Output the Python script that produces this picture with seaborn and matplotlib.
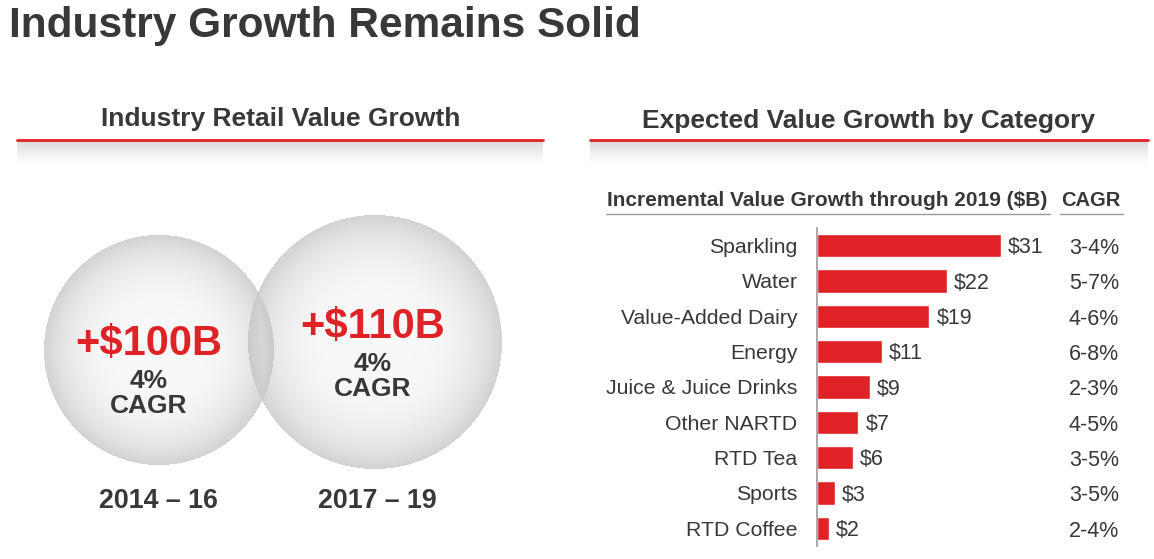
import numpy as np
import pandas as pd
import matplotlib
matplotlib.use('Agg')
import matplotlib.pyplot as plt
import matplotlib.transforms as mtransforms
import seaborn as sns

# data
categories = ['Sparkling', 'Water', 'Value-Added Dairy', 'Energy', 'Juice & Juice Drinks',
              'Other NARTD', 'RTD Tea', 'Sports', 'RTD Coffee']
growth_b = [31, 22, 19, 11, 9, 7, 6, 3, 2]
cagr = ['3-4%', '5-7%', '4-6%', '6-8%', '2-3%', '4-5%', '3-5%', '3-5%', '2-4%']
periods = ['2014 \u2013 16', '2017 \u2013 19']
period_value = ['+$100B', '+$110B']
period_cagr = ['4%', '4%']

RED = '#DF2226'
DARK = '#383838'

sns.set_theme(style='white')
plt.rcParams['font.family'] = ['Liberation Sans', 'DejaVu Sans']

W, H = 1154, 559
fig = plt.figure(figsize=(W / 100, H / 100), dpi=100)
bg = fig.add_axes([0, 0, 1, 1])
bg.set_xlim(0, W)
bg.set_ylim(H, 0)
bg.axis('off')

# background: header shadows + shaded circles
yy, xx = np.mgrid[0:H, 0:W] + 0.5
img = np.ones((H, W))
for x0, x1 in [(17, 543), (590, 1148)]:
    band = (xx >= x0) & (xx <= x1) & (yy >= 141) & (yy <= 168)
    t = np.clip((yy - 141) / 27, 0, 1)
    img = np.where(band, 1 - 0.15 * (1 - t) ** 1.6, img)

def sphere(cx, cy, r):
    d = np.hypot(xx - cx, yy - cy) / r
    s = 0.975 - 0.15 * np.clip(d, 0, 1) ** 3.6
    return np.where(d <= 1, s, 1.0), d <= 1

s1, in1 = sphere(159, 350, 115)
s2, in2 = sphere(375, 342, 127)
circ = np.minimum(s1, s2) * np.where(in1 & in2, 0.96, 1.0)
img = np.where(in1 | in2, circ, img)
bg.imshow(np.dstack([img] * 3), extent=(0, W, H, 0), aspect='auto', zorder=0)

# header red lines
bg.plot([17, 543], [140, 140], color=RED, lw=2, zorder=2)
bg.plot([590, 1148], [140, 140], color=RED, lw=2, zorder=2)

bg.text(9, 26, 'Industry Growth Remains Solid', fontsize=30.5, fontweight='bold',
        color=DARK, ha='left', va='center')
bg.text(281, 119, 'Industry Retail Value Growth', fontsize=19, fontweight='bold',
        color=DARK, ha='center', va='center')
bg.text(869, 121, 'Expected Value Growth by Category', fontsize=19, fontweight='bold',
        color=DARK, ha='center', va='center')

# circle texts
for cx, cy, val, cg in zip([149, 373], [344, 327], period_value, period_cagr):
    bg.text(cx, cy, val, fontsize=30, fontweight='bold', color=RED, ha='center', va='center')
    bg.text(cx, cy + 37, cg, fontsize=19, fontweight='bold', color=DARK, ha='center', va='center')
    bg.text(cx, cy + 62, 'CAGR', fontsize=19, fontweight='bold', color=DARK, ha='center', va='center')
for cx, per in zip([158, 377], periods):
    bg.text(cx, 501, per, fontsize=19.3, fontweight='bold', color=DARK, ha='center', va='center')

# sub headers
bg.text(827, 200, 'Incremental Value Growth through 2019 ($B)', fontsize=15, fontweight='bold',
        color=DARK, ha='center', va='center')
bg.plot([606, 1050], [214, 214], color='#9a9a9a', lw=1)
bg.text(1091, 200, 'CAGR', fontsize=14.5, fontweight='bold', color=DARK, ha='center', va='center')
bg.plot([1060, 1123], [214, 214], color='#9a9a9a', lw=1)

# bar chart
ax_left, px_unit = 817, 5.92
xmax = 40
top_px, bot_px = 228, 546
ax = fig.add_axes([ax_left / W, 1 - bot_px / H, xmax * px_unit / W, (bot_px - top_px) / H])
ax.patch.set_alpha(0)
df = pd.DataFrame({'category': categories, 'growth': growth_b, 'cagr': cagr})
sns.barplot(data=df, x='growth', y='category', orient='h', color=RED, saturation=1,
            width=0.66, ax=ax)
ax.set_xlim(0, xmax)
ax.set_xlabel('')
ax.set_ylabel('')
ax.set_xticks([])
for s in ['top', 'right', 'bottom']:
    ax.spines[s].set_visible(False)
ax.spines['left'].set_color('#999999')
ax.spines['left'].set_linewidth(1.2)
ax.tick_params(axis='y', length=0, pad=14, labelsize=15.3, labelcolor=DARK)
for i, v in enumerate(growth_b):
    ax.annotate(f'${v}', (v, i + 0.06), xytext=(5, 0), textcoords='offset points',
                fontsize=15.5, color=DARK, ha='left', va='center')

trans = mtransforms.blended_transform_factory(bg.transData, ax.transData)
for i, c in enumerate(cagr):
    ax.text(1094, i + 0.08, c, transform=trans, fontsize=15.5, color=DARK,
            ha='center', va='center')

fig.savefig('out.png', dpi=100)
